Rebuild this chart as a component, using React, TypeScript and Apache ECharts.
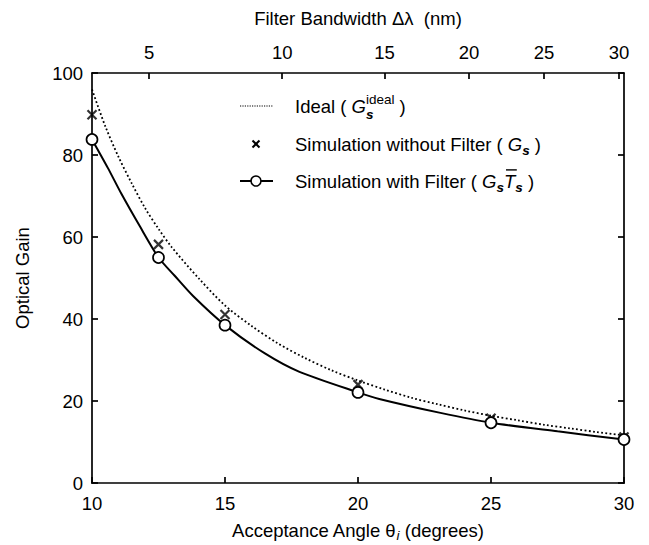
import React, { useEffect, useRef } from "react";
import * as echarts from "echarts";

// ---- data ----
const angleMin = 10;
const angleMax = 30;
const gainMax = 100;

// top axis: filter bandwidth tick labels and the acceptance angle at which each tick sits
const bandwidthLabels = ["5", "10", "15", "20", "25", "30"];
const bandwidthTickAngles = [12.15, 17.15, 21.0, 24.17, 26.99, 29.81];

// ideal curve (dotted)
const idealAngles = [10, 10.5, 11, 11.5, 12, 12.5, 13, 14, 15, 16, 17, 18, 19, 20, 21, 22, 23, 24, 25, 26, 27, 28, 29, 30];
const idealGain = [96, 87, 79.5, 73, 67, 62, 57.5, 50, 43.3, 38.3, 34, 30.5, 27.5, 25, 22.8, 20.8, 19.2, 17.7, 16.4, 15.3, 14.2, 13.3, 12.4, 11.6];

// simulation points
const markerAngles = [10, 12.5, 15, 20, 25, 30];
const gainNoFilter = [89.8, 58.2, 41.1, 24.0, 15.8, 11.2];
const gainWithFilter = [83.8, 55.0, 38.5, 22.1, 14.7, 10.6];

// solid curve through the filtered simulation
const filterCurveAngles = [10, 10.6, 11.1, 11.8, 12.5, 13.1, 13.8, 15, 16.5, 17.8, 20, 20.8, 23.1, 25, 27.5, 30];
const filterCurveGain = [83.8, 76.8, 70.6, 62.6, 55.0, 50.6, 45.6, 38.5, 31.6, 27.1, 22.1, 20.5, 17.1, 14.7, 12.6, 10.6];

const FONT = '"Liberation Sans", Arial, Helvetica, sans-serif';
const FS = 18.5;
const SUB = 13.5;

type Seg = { t: string; size?: number; italic?: boolean; bold?: boolean; dy?: number; over?: boolean; noAdvance?: boolean };

function buildRow(ctx: CanvasRenderingContext2D, segs: Seg[], x: number, y: number, anchor: "left" | "center") {
  const widths = segs.map((s) => {
    ctx.font = `${s.italic ? "italic " : ""}${s.bold ? "bold " : ""}${s.size || FS}px "Liberation Sans"`;
    return ctx.measureText(s.t).width;
  });
  let total = 0;
  let pendingMax = 0;
  segs.forEach((s, i) => {
    if (s.noAdvance) {
      pendingMax = Math.max(pendingMax, widths[i]);
    } else {
      total += Math.max(pendingMax, widths[i]);
      pendingMax = 0;
    }
  });
  total += pendingMax;
  let cx = anchor === "center" ? x - total / 2 : x;
  const els: any[] = [];
  let stackW = 0;
  segs.forEach((s, i) => {
    const size = s.size || FS;
    els.push({
      type: "text",
      x: cx,
      y: y + (s.dy || 0),
      silent: true,
      style: {
        text: s.t,
        fontSize: size,
        fontFamily: FONT,
        fontStyle: s.italic ? "italic" : "normal",
        fontWeight: s.bold ? "bold" : "normal",
        fill: "#000",
        align: "left",
        verticalAlign: "middle",
      },
    });
    if (s.over) {
      const oy = y + (s.dy || 0) - size * 0.6;
      els.push({
        type: "line",
        silent: true,
        shape: { x1: cx + 2, y1: oy, x2: cx + widths[i] + 1.5, y2: oy },
        style: { stroke: "#000", lineWidth: 1.4 },
      });
    }
    if (s.noAdvance) {
      stackW = Math.max(stackW, widths[i]);
    } else {
      cx += Math.max(stackW, widths[i]);
      stackW = 0;
    }
  });
  return els;
}

export default function App() {
  const ref = useRef<HTMLDivElement>(null);

  useEffect(() => {
    if (!ref.current) return;
    const chart = echarts.init(ref.current, undefined, { renderer: "svg" });
    const canvas = document.createElement("canvas");
    const ctx = canvas.getContext("2d") as CanvasRenderingContext2D;

    const gridLeft = 92;
    const gridRight = 25;
    const gridTop = 73;
    const gridBottom = 62;
    const plotCenterX = gridLeft + (649 - gridLeft - gridRight) / 2;

    const axisLine = { show: true, onZero: false, lineStyle: { color: "#000", width: 1.7 } };
    const tick = { show: true, inside: true, length: 6, lineStyle: { color: "#000", width: 1.7 } };
    const label = { color: "#000", fontSize: FS, fontFamily: FONT };

    const legendX0 = 240;
    const legendX1 = 273;
    const legendSym = 256;
    const legendText = 295;
    const rowY = [106, 144, 181];

    const graphics: any[] = [];
    graphics.push({
      type: "line",
      silent: true,
      shape: { x1: legendX0, y1: rowY[0], x2: legendX1, y2: rowY[0] },
      style: { stroke: "#000", lineWidth: 1.2, lineDash: [1.2, 1.2] },
    });
    graphics.push({
      type: "line",
      silent: true,
      shape: { x1: legendSym - 3.5, y1: rowY[1] - 3.5, x2: legendSym + 3.5, y2: rowY[1] + 3.5 },
      style: { stroke: "#000", lineWidth: 2 },
    });
    graphics.push({
      type: "line",
      silent: true,
      shape: { x1: legendSym - 3.5, y1: rowY[1] + 3.5, x2: legendSym + 3.5, y2: rowY[1] - 3.5 },
      style: { stroke: "#000", lineWidth: 2 },
    });
    graphics.push({
      type: "line",
      silent: true,
      shape: { x1: legendX0, y1: rowY[2], x2: legendX1, y2: rowY[2] },
      style: { stroke: "#000", lineWidth: 2 },
    });
    graphics.push({
      type: "circle",
      silent: true,
      shape: { cx: legendSym, cy: rowY[2], r: 5 },
      style: { fill: "#fff", stroke: "#000", lineWidth: 1.6 },
      z: 10,
    });

    graphics.push(
      ...buildRow(
        ctx,
        [
          { t: "Ideal ( " },
          { t: "G", italic: true },
          { t: "s", size: SUB, italic: true, bold: true, dy: 8, noAdvance: true },
          { t: "ideal", size: SUB, dy: -7 },
          { t: " )" },
        ],
        legendText,
        rowY[0],
        "left"
      )
    );
    graphics.push(
      ...buildRow(
        ctx,
        [
          { t: "Simulation without Filter ( " },
          { t: "G", italic: true },
          { t: "s", size: SUB, italic: true, bold: true, dy: 6 },
          { t: " )" },
        ],
        legendText,
        rowY[1],
        "left"
      )
    );
    graphics.push(
      ...buildRow(
        ctx,
        [
          { t: "Simulation with Filter ( " },
          { t: "G", italic: true },
          { t: "s", size: SUB, italic: true, bold: true, dy: 6 },
          { t: "T", italic: true, over: true },
          { t: "s", size: SUB, italic: true, bold: true, dy: 6 },
          { t: " )" },
        ],
        legendText,
        rowY[2],
        "left"
      )
    );

    graphics.push(
      ...buildRow(
        ctx,
        [{ t: "Acceptance Angle θ" }, { t: "i", size: SUB, italic: true, dy: 5 }, { t: " (degrees)" }],
        plotCenterX,
        530,
        "center"
      )
    );
    graphics.push(...buildRow(ctx, [{ t: "Filter Bandwidth Δλ  (nm)" }], plotCenterX, 18, "center"));
    graphics.push({
      type: "text",
      x: 22,
      y: 278,
      rotation: Math.PI / 2,
      silent: true,
      style: {
        text: "Optical Gain",
        fontSize: FS,
        fontFamily: FONT,
        fill: "#000",
        align: "center",
        verticalAlign: "middle",
      },
    });

    const zip = (a: number[], b: number[]) => a.map((v, i) => [v, b[i]]);

    chart.setOption({
      animation: false,
      backgroundColor: "#fff",
      textStyle: { fontFamily: FONT },
      grid: { left: gridLeft, right: gridRight, top: gridTop, bottom: gridBottom, containLabel: false },
      xAxis: [
        {
          type: "value",
          min: angleMin,
          max: angleMax,
          interval: 5,
          position: "bottom",
          axisLine,
          axisTick: tick,
          axisLabel: { ...label, margin: 11 },
          splitLine: { show: false },
        },
        {
          type: "value",
          min: angleMin,
          max: angleMax,
          position: "top",
          axisLine,
          axisTick: { ...tick, customValues: bandwidthTickAngles },
          axisLabel: {
            ...label,
            margin: 11,
            customValues: bandwidthTickAngles,
            formatter: (v: number) => {
              const i = bandwidthTickAngles.findIndex((a) => Math.abs(a - v) < 1e-6);
              return i >= 0 ? bandwidthLabels[i] : "";
            },
          },
          splitLine: { show: false },
        },
      ],
      yAxis: [
        {
          type: "value",
          min: 0,
          max: gainMax,
          interval: 20,
          position: "left",
          axisLine,
          axisTick: tick,
          axisLabel: { ...label, margin: 9 },
          splitLine: { show: false },
        },
        {
          type: "value",
          min: 0,
          max: gainMax,
          interval: 20,
          position: "right",
          axisLine,
          axisTick: tick,
          axisLabel: { show: false },
          splitLine: { show: false },
        },
      ],
      series: [
        {
          name: "Ideal",
          type: "line",
          xAxisIndex: 0,
          yAxisIndex: 0,
          data: zip(idealAngles, idealGain),
          showSymbol: false,
          smooth: 0.3,
          lineStyle: { color: "#000", width: 1.8, type: [1.8, 2.4] },
        },
        {
          name: "Simulation with Filter curve",
          type: "line",
          xAxisIndex: 0,
          yAxisIndex: 0,
          data: zip(filterCurveAngles, filterCurveGain),
          showSymbol: false,
          smooth: 0.25,
          lineStyle: { color: "#000", width: 2 },
        },
        {
          name: "Simulation without Filter",
          type: "scatter",
          xAxisIndex: 0,
          yAxisIndex: 0,
          clip: false,
          data: zip(markerAngles, gainNoFilter),
          symbol: "path://M0,0L10,10M10,0L0,10",
          symbolSize: 9,
          itemStyle: { color: "#000", borderColor: "#000", borderWidth: 2.2 },
          z: 5,
        },
        {
          name: "Simulation with Filter",
          type: "scatter",
          xAxisIndex: 0,
          yAxisIndex: 0,
          clip: false,
          data: zip(markerAngles, gainWithFilter),
          symbol: "circle",
          symbolSize: 11,
          itemStyle: { color: "#fff", borderColor: "#000", borderWidth: 1.7, opacity: 1 },
          z: 6,
        },
      ],
      graphic: graphics,
    });

    return () => chart.dispose();
  }, []);

  return (
    <div
      ref={ref}
      style={{ position: "fixed", left: 0, top: 0, width: 649, height: 545, background: "#fff" }}
    />
  );
}
